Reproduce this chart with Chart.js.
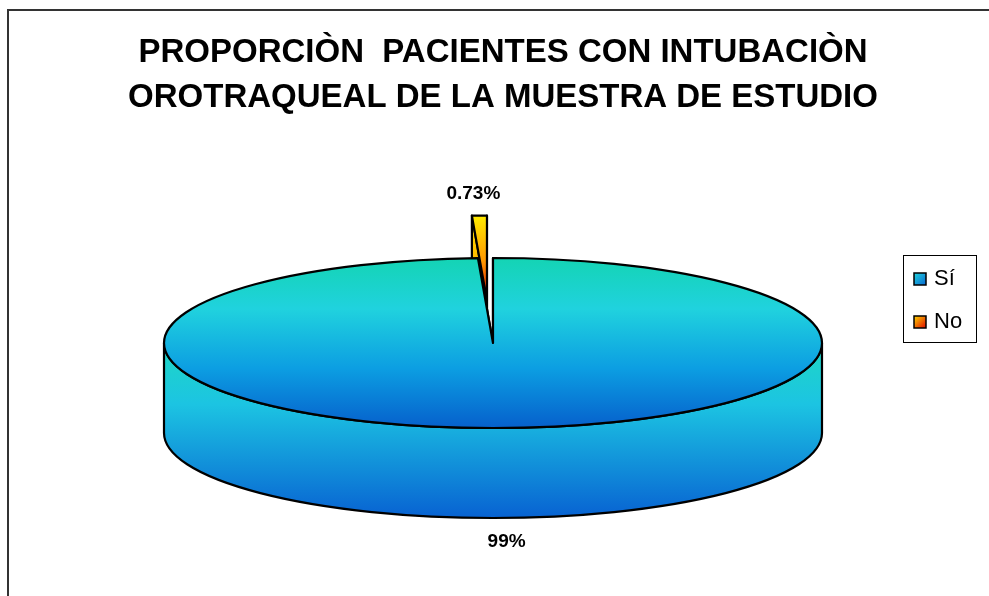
<!DOCTYPE html>
<html>
<head>
<meta charset="utf-8">
<script src="https://cdn.jsdelivr.net/npm/chart.js@4/dist/chart.umd.min.js"></script>
<style>
  html, body { margin: 0; padding: 0; background: #fff; }
  #wrap { position: relative; width: 989px; height: 596px; }
</style>
</head>
<body>
<div id="wrap"><canvas id="chart"></canvas></div>
<script>
const labels     = ["Sí", "No"];
const values     = [99.27, 0.73];
const valueTexts = ["99%", "0.73%"];
const explode    = [0, 52];
const titleLines = ["PROPORCIÒN  PACIENTES CON INTUBACIÒN", "OROTRAQUEAL DE LA MUESTRA DE ESTUDIO"];

const TILT  = 85 / 329;   // ellipse ry / rx
const FONT  = '"Liberation Sans", Arial, sans-serif';

function topFill(ctx, i, cy, ry) {
  if (i === 0) {
    const g = ctx.createLinearGradient(0, cy - ry, 0, cy + ry);
    g.addColorStop(0,    "#14d4b4");
    g.addColorStop(0.3,  "#20d2de");
    g.addColorStop(0.65, "#0c9ee2");
    g.addColorStop(1,    "#0660cc");
    return g;
  }
  const g = ctx.createLinearGradient(-10, cy - ry, 4, cy);
  g.addColorStop(0,   "#ffec00");
  g.addColorStop(0.55, "#ff9400");
  g.addColorStop(1,   "#e00800");
  return g;
}

function sideFill(ctx, i, cy, ry, depth) {
  if (i === 0) {
    const g = ctx.createLinearGradient(0, cy, 0, cy + ry + depth);
    g.addColorStop(0,    "#1ed8c4");
    g.addColorStop(0.35, "#1cc4e2");
    g.addColorStop(1,    "#0862d2");
    return g;
  }
  const g = ctx.createLinearGradient(-14, cy - ry, 0, cy + depth * 0.6);
  g.addColorStop(0,   "#ffe400");
  g.addColorStop(0.5, "#ffa000");
  g.addColorStop(1,   "#e00000");
  return g;
}

const pie3d = {
  id: "pie3d",
  beforeDraw(chart) {
    const ctx = chart.ctx;
    ctx.save();
    ctx.strokeStyle = "#333";
    ctx.lineWidth = 2;
    ctx.beginPath();
    ctx.moveTo(8, 596);
    ctx.lineTo(8, 10);
    ctx.lineTo(989, 10);
    ctx.stroke();
    ctx.restore();
  },
  beforeDatasetsDraw(chart) {
    const ctx = chart.ctx, area = chart.chartArea;
    const cx = (area.left + area.right) / 2;
    const rx = (area.right - area.left) / 2;
    const ry = rx * TILT;
    const cy = area.top + ry;
    const depth = area.bottom - area.top - 2 * ry;
    const arcs = chart.getDatasetMeta(0).data;

    const pieces = arcs.map((arc, i) => {
      const p = arc.getProps(["startAngle", "endAngle", "outerRadius"], true);
      const k = rx / p.outerRadius;
      const mid = (p.startAngle + p.endAngle) / 2;
      const off = (arc.options.offset || 0) * k;
      return { i, s: p.startAngle, e: p.endAngle, mid,
               dx: Math.cos(mid) * off * 1.6, dy: Math.sin(mid) * off * TILT };
    });
    // back pieces first
    pieces.sort((a, b) => Math.sin(a.mid) - Math.sin(b.mid));

    ctx.save();
    ctx.lineWidth = 2.2;
    ctx.lineJoin = "round";
    ctx.strokeStyle = "#000";
    for (const pc of pieces) {
      ctx.save();
      ctx.translate(cx + pc.dx, 0);
      const y0 = cy + pc.dy;
      const full = pc.e - pc.s > Math.PI * 2 - 1e-6;

      // radial walls
      if (!full) {
        ctx.fillStyle = sideFill(ctx, pc.i, y0, ry, depth);
        for (const a of [pc.s, pc.e]) {
          const ex = rx * Math.cos(a), ey = y0 + ry * Math.sin(a);
          ctx.beginPath();
          ctx.moveTo(0, y0);
          ctx.lineTo(ex, ey);
          ctx.lineTo(ex, ey + depth);
          ctx.lineTo(0, y0 + depth);
          ctx.closePath();
          ctx.fill();
          ctx.stroke();
        }
      }

      // outer wall, front half only
      ctx.fillStyle = sideFill(ctx, pc.i, y0, ry, depth);
      for (let k = -1; k <= 1; k++) {
        const lo = Math.max(pc.s, 2 * Math.PI * k);
        const hi = Math.min(pc.e, 2 * Math.PI * k + Math.PI);
        if (hi <= lo) continue;
        ctx.beginPath();
        ctx.ellipse(0, y0, rx, ry, 0, lo, hi);
        ctx.ellipse(0, y0 + depth, rx, ry, 0, hi, lo, true);
        ctx.closePath();
        ctx.fill();
        ctx.stroke();
      }

      // top face
      ctx.fillStyle = topFill(ctx, pc.i, y0, ry);
      ctx.beginPath();
      if (!full) ctx.moveTo(0, y0);
      ctx.ellipse(0, y0, rx, ry, 0, pc.s, pc.e);
      ctx.closePath();
      ctx.fill();
      ctx.stroke();
      ctx.restore();
    }

    // value labels
    ctx.fillStyle = "#000";
    ctx.font = "bold 19px " + FONT;
    ctx.textAlign = "center";
    ctx.textBaseline = "middle";
    for (const pc of pieces) {
      const x = cx + pc.dx + rx * Math.cos(pc.mid) * 1.8;
      const yRim = cy + pc.dy + ry * Math.sin(pc.mid);
      const y = Math.sin(pc.mid) > 0 ? yRim + depth + 24 : yRim - 22;
      ctx.fillText(valueTexts[pc.i], x, y);
    }
    ctx.restore();
    return false;
  },
  afterDraw(chart) {
    const ctx = chart.ctx;
    ctx.save();
    // title
    ctx.fillStyle = "#000";
    ctx.font = "bold 33px " + FONT;
    ctx.textAlign = "center";
    ctx.textBaseline = "middle";
    titleLines.forEach((t, i) => ctx.fillText(t, 503, 53 + i * 45));

    // legend
    ctx.strokeStyle = "#000";
    ctx.lineWidth = 1;
    ctx.strokeRect(903.5, 255.5, 73, 87);
    ctx.font = "22px " + FONT;
    ctx.textAlign = "left";
    labels.forEach((lab, i) => {
      const y = 279 + i * 43;
      const g = ctx.createLinearGradient(914, y - 6, 926, y + 6);
      if (i === 0) { g.addColorStop(0, "#20d4dc"); g.addColorStop(1, "#0866d0"); }
      else { g.addColorStop(0, "#ffd800"); g.addColorStop(1, "#e00800"); }
      ctx.fillStyle = g;
      ctx.lineWidth = 1.5;
      ctx.fillRect(914, y - 6, 12, 12);
      ctx.strokeRect(914, y - 6, 12, 12);
      ctx.fillStyle = "#000";
      ctx.fillText(lab, 934, y);
    });
    ctx.restore();
  }
};

new Chart(document.getElementById("chart"), {
  type: "pie",
  data: {
    labels: labels,
    datasets: [{
      data: values,
      offset: explode,
      borderWidth: 0,
      backgroundColor: ["#1aa8e0", "#ff8a00"],
    }],
  },
  options: {
    responsive: true,
    maintainAspectRatio: false,
    devicePixelRatio: 1,
    animation: false,
    layout: { padding: { left: 164, right: 167, top: 258, bottom: 78 } },
    plugins: {
      legend: { display: false },
      title: { display: false },
      tooltip: { enabled: false },
    },
  },
  plugins: [pie3d],
});
</script>
</body>
</html>
